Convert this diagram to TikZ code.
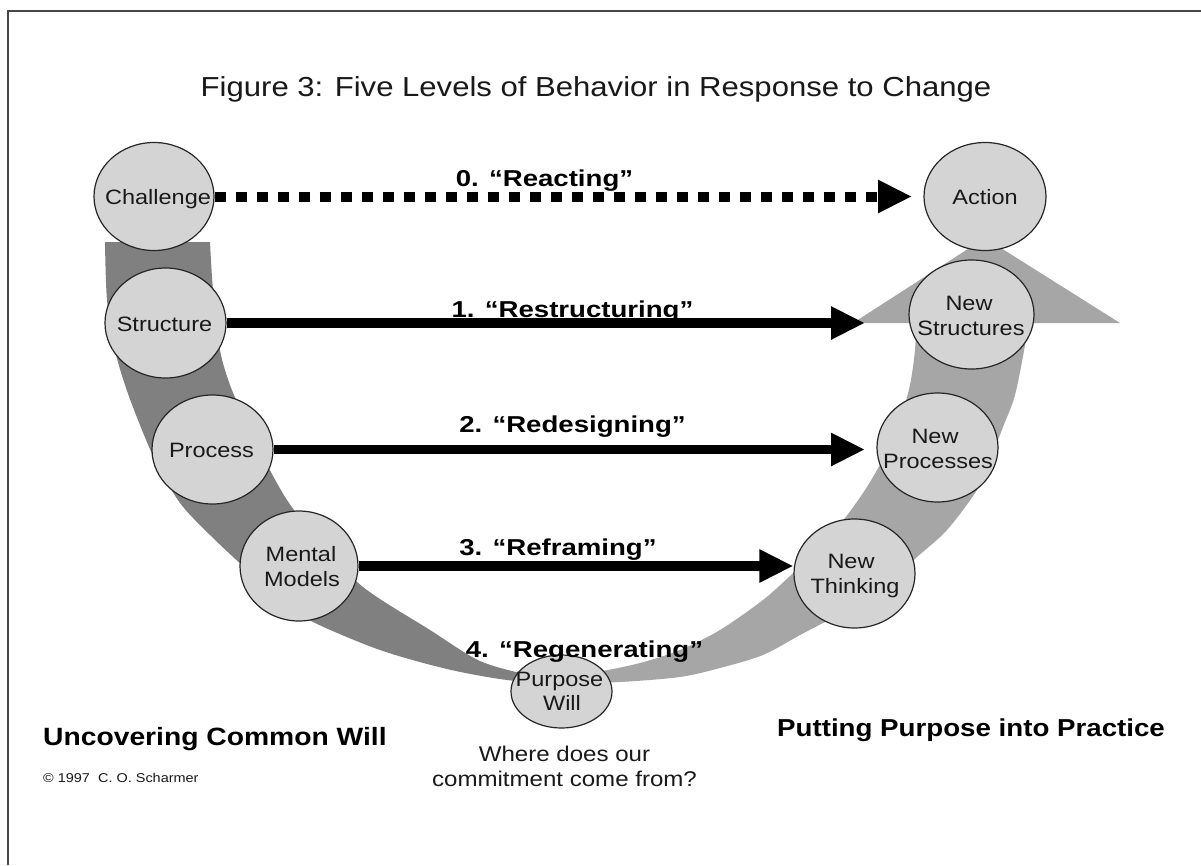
\documentclass[tikz,border=0pt]{standalone}
\usepackage{fontspec}
\setmainfont{Liberation Sans}
\usepackage{graphicx}
\usetikzlibrary{arrows.meta,shapes.geometric}
\newcommand{\sx}[1]{\scalebox{1.13}[1]{#1}}
\newcommand{\sxb}[1]{\scalebox{1.2}[1]{#1}}
\definecolor{circfill}{RGB}{212,212,212}
\definecolor{banddark}{RGB}{128,128,128}
\definecolor{bandlight}{RGB}{166,166,166}
\definecolor{framec}{RGB}{70,70,70}
\definecolor{txtc}{RGB}{25,25,25}
\begin{document}
\begin{tikzpicture}[x=1pt,y=-1pt,
  circ/.style={ellipse, draw=black!85, line width=1.2pt, fill=circfill, inner sep=0pt},
  ctext/.style={anchor=base, inner sep=0pt, font=\fontsize{20.8}{25}\selectfont, text=txtc},
  lab/.style={anchor=base, inner sep=0pt, font=\fontsize{23}{27}\selectfont\bfseries, text=black},
  bigarrow/.style={line width=9.5pt, -{Triangle[length=34pt,width=31pt]}},
  dotarrow/.style={line width=10pt, dash pattern=on 11pt off 10pt, -{Triangle[length=34pt,width=31pt]}},
  foot/.style={anchor=base west, inner sep=0pt, font=\fontsize{25}{30}\selectfont\bfseries, text=black},
]
\useasboundingbox (0,0) rectangle (1201,865);
\fill[white] (0,0) rectangle (1201,865);
\draw[framec, line width=1.3pt] (8,865) -- (8,11) -- (1201,11);

% U band, left (dark) arm
\fill[banddark] (105,242) -- (210,242) -- plot[smooth] coordinates {(210,242) (213,290) (220,350) (230,385) (243,415) (262,455) (287,500) (318,540) (363,587) (430,630) (480,661) (530,675) (565,678)} -- plot[smooth] coordinates {(565,684) (507,680) (447,669) (380,650) (313,622) (280,600) (245,568) (210,535) (180,503) (155,460) (138,420) (125,385) (115,350) (107,300) (105,242)} -- cycle;

% U band, right (light) arm with arrowhead
\fill[bandlight] plot[smooth] coordinates {(555,678) (597,672) (640,663) (680,650) (720,630) (763,600) (790,576) (820,548) (845,518) (867,487) (885,455) (900,420) (910,385) (915,350) (916,323)} -- (853,323) -- (985,238) -- (1120,323) -- (1027,323) -- plot[smooth] coordinates {(1027,323) (1025,345) (1015,395) (1003,427) (990,460) (977,490) (947,530) (917,557) (880,590) (850,610) (827,621) (800,635) (763,655) (720,668) (680,677) (620,682) (555,684)} -- cycle;

% circles
\node[circ, minimum width=120pt, minimum height=108pt] (ch) at (154,196.5) {};
\node[circ, minimum width=122pt, minimum height=108pt] (ac) at (985,196.5) {};
\node[circ, minimum width=121pt, minimum height=110pt] (st) at (165.5,323) {};
\node[circ, minimum width=121pt, minimum height=109pt] (pr) at (212.5,449.5) {};
\node[circ, minimum width=118pt, minimum height=110pt] (mm) at (299,566) {};
\node[circ, minimum width=125pt, minimum height=109pt] (ns) at (971.5,314.5) {};
\node[circ, minimum width=121pt, minimum height=109pt] (np) at (937.5,447.5) {};
\node[circ, minimum width=121pt, minimum height=109pt] (nt) at (854.5,573.5) {};
\node[circ, minimum width=101pt, minimum height=73pt] (pw) at (561.5,691.5) {};

% connectors
\coordinate (t0) at (912,196.5);
\coordinate (t1) at (865,323);
\coordinate (t2) at (865,449.5);
\draw[dotarrow] (ch.east) -- (t0);
\draw[bigarrow] (st.east) -- (t1);
\draw[bigarrow] (pr.east) -- (t2);
\draw[bigarrow] (mm.east) -- (mm.east -| nt.west);

% title
\node[anchor=base, inner sep=0pt, font=\fontsize{27.5}{33}\selectfont, text=txtc] (title) at (596,96) {\sx{Figure 3: Five Levels of Behavior in Response to Change}};

% arrow labels
\node[lab] (l0) at (544.5,186) {\sxb{0. “Reacting”}};
\node[lab] (l1) at (572.5,317) {\sxb{1. “Restructuring”}};
\node[lab] (l2) at (572.5,432) {\sxb{2. “Redesigning”}};
\node[lab] (l3) at (558,555) {\sxb{3. “Reframing”}};
\node[lab] (l4) at (584.5,657) {\sxb{4. “Regenerating”}};

% circle texts
\node[ctext] (tch) at (158,204) {\sx{Challenge}};
\node[ctext] (tac) at (985,204) {\sx{Action}};
\node[ctext] (tst) at (164.5,331.5) {\sx{Structure}};
\node[ctext] (tpr) at (211.5,457) {\sx{Process}};
\node[ctext] (tmm1) at (301,561.5) {\sx{Mental}};
\node[ctext] (tmm2) at (302,586.5) {\sx{Models}};
\node[ctext] (tns1) at (969,310) {\sx{New}};
\node[ctext] (tns2) at (971,335) {\sx{Structures}};
\node[ctext] (tnp1) at (935,443) {\sx{New}};
\node[ctext] (tnp2) at (938,468) {\sx{Processes}};
\node[ctext] (tnt1) at (851,568) {\sx{New}};
\node[ctext] (tnt2) at (855,593) {\sx{Thinking}};
\node[ctext] (tpw1) at (559.5,686.5) {\sx{Purpose}};
\node[ctext] (tpw2) at (562,710.5) {\sx{Will}};

% question
\node[anchor=base, inner sep=0pt, font=\fontsize{21.3}{25}\selectfont, text=txtc] (q1) at (564.5,761.5) {\sx{Where does our}};
\node[anchor=base, inner sep=0pt, font=\fontsize{21.3}{25}\selectfont, text=txtc] (q2) at (564.5,786.5) {\sx{commitment come from?}};

% footers
\node[foot] (fl) at (43,745) {\sx{Uncovering Common Will}};
\node[foot, font=\fontsize{24.5}{30}\selectfont\bfseries] (fr) at (777,736.5) {\sx{Putting Purpose into Practice}};
\node[anchor=base west, inner sep=0pt, font=\fontsize{12.8}{15}\selectfont, text=txtc] (copy) at (43,782) {\sx{© 1997\ \ C. O. Scharmer}};
\end{tikzpicture}
\end{document}
